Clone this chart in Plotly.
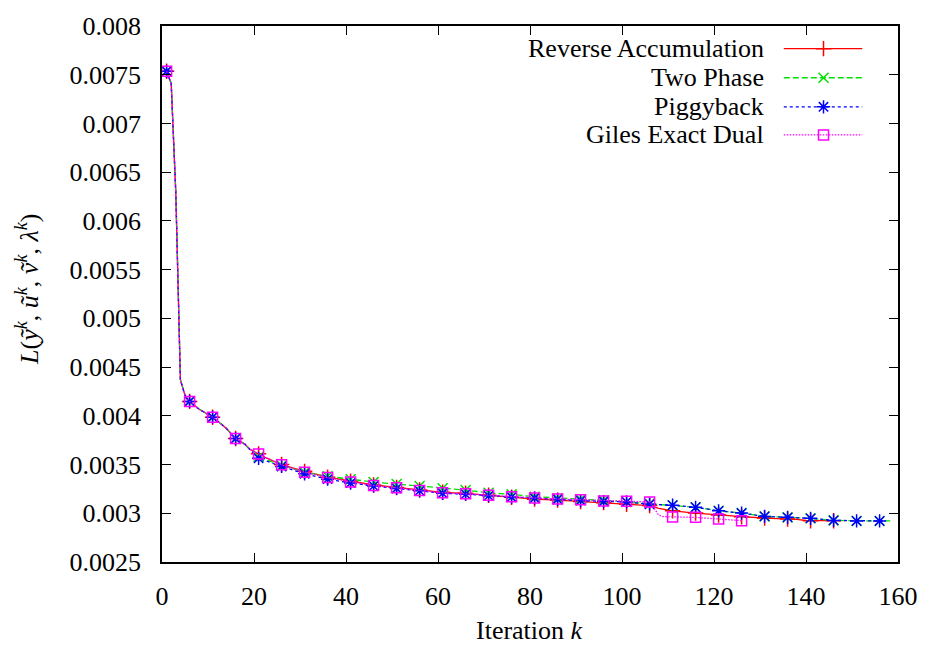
import plotly.graph_objects as go

# ---------------- data ----------------
early_k = [1, 2, 3, 4, 5, 6, 8, 11, 13, 14, 16, 18, 19]
early_v = [0.007535, 0.00741, 0.00629, 0.00437, 0.00421, 0.004148, 0.00407,
           0.003986, 0.00391, 0.00387, 0.003767, 0.00371, 0.00366]

ra_k = early_k + [21, 23, 26, 31, 36, 41, 46, 51, 56, 61, 66, 71, 76, 81, 86, 91, 96,
                  101, 106, 108, 111, 116, 121, 126, 131, 136, 138, 140, 141, 146]
ra_v = early_v + [0.00361, 0.00356, 0.0035, 0.00343, 0.00337, 0.00333, 0.00329, 0.003265,
                  0.00324, 0.003215, 0.003205, 0.003185, 0.003165, 0.003145, 0.003135,
                  0.00312, 0.003109, 0.003093, 0.003079, 0.00305, 0.003025, 0.003002,
                  0.002982, 0.002965, 0.002951, 0.002941, 0.002938, 0.002926, 0.002924,
                  0.002924]

tp_k = early_k + [21, 26, 31, 36, 41, 46, 51, 56, 61, 66, 71, 76, 81, 86, 91, 96, 101,
                  106, 111, 116, 121, 126, 131, 136, 141, 146, 151, 156, 159]
tp_v = early_v + [0.00358, 0.00349, 0.00342, 0.00338, 0.00335, 0.00332, 0.0033, 0.00328,
                  0.003257, 0.003238, 0.00321, 0.003194, 0.00317, 0.003154, 0.003144,
                  0.003133, 0.003116, 0.0031, 0.003083, 0.003062, 0.003025, 0.003002,
                  0.002968, 0.002958, 0.002948, 0.002927, 0.002921, 0.002921, 0.002921]

pb_k = early_k + [21, 26, 31, 36, 41, 46, 51, 56, 61, 66, 71, 76, 81, 86, 91, 96, 101,
                  106, 111, 116, 121, 126, 131, 136, 141, 146, 151, 156, 157]
pb_v = early_v + [0.003564, 0.00348, 0.003405, 0.00335, 0.00331, 0.00328, 0.003255,
                  0.00323, 0.003205, 0.003195, 0.00318, 0.003165, 0.003155, 0.003142,
                  0.00313, 0.00312, 0.003116, 0.003093, 0.003083, 0.003062, 0.003025,
                  0.003002, 0.002968, 0.002958, 0.002948, 0.002927, 0.002921, 0.002921,
                  0.002921]

ge_k = early_k + [21, 26, 31, 36, 41, 46, 51, 56, 61, 66, 71, 76, 81, 86, 91, 96, 101,
                  106, 107, 108, 109, 111, 116, 121, 126]
ge_v = early_v + [0.003609, 0.003497, 0.00342, 0.003366, 0.003322, 0.003285, 0.003261,
                  0.003234, 0.00321, 0.0032, 0.003184, 0.00317, 0.003157, 0.003147,
                  0.00314, 0.003126, 0.003123, 0.003116, 0.00305, 0.00298, 0.002965,
                  0.002962, 0.002958, 0.002941, 0.002924]

series_names = ["Reverse Accumulation", "Two Phase", "Piggyback", "Giles Exact Dual"]

y_tickvals = [0.0025, 0.003, 0.0035, 0.004, 0.0045, 0.005, 0.0055, 0.006, 0.0065,
              0.007, 0.0075, 0.008]
y_ticktext = ["0.0025", "0.003", "0.0035", "0.004", "0.0045", "0.005", "0.0055",
              "0.006", "0.0065", "0.007", "0.0075", "0.008"]
x_tickvals = [0, 20, 40, 60, 80, 100, 120, 140, 160]

# ---------------- styles ----------------
styles = [
    dict(color="#ff0000", dash="solid", symbol="cross-thin", size=11),
    dict(color="#00e000", dash="6px,3px", symbol="x-thin", size=10),
    dict(color="#0000ff", dash="3px,3px", symbol="asterisk", size=11),
    dict(color="#ff00ff", dash="1.5px,1.5px", symbol="square-open", size=10),
]
data = [(ra_k, ra_v), (tp_k, tp_v), (pb_k, pb_v), (ge_k, ge_v)]

FONT = "Liberation Serif, Times New Roman, serif"
FS = 26
fig = go.Figure()

for (ks, vs), st, name in zip(data, styles, series_names):
    fig.add_trace(go.Scatter(x=ks, y=vs, mode="lines", showlegend=False,
                             line=dict(color=st["color"], dash=st["dash"], width=1.3),
                             hoverinfo="skip"))
    mk = [k for k in ks if (k - 1) % 5 == 0]
    mv = [v for k, v in zip(ks, vs) if (k - 1) % 5 == 0]
    fig.add_trace(go.Scatter(x=mk, y=mv, mode="markers", showlegend=False, name=name,
                             marker=dict(symbol=st["symbol"], size=st["size"],
                                         color=st["color"],
                                         line=dict(color=st["color"], width=1.5))))

# ---------------- manual gnuplot-style key ----------------
# plot area: x 162..903 px, y 18..562 px
x0, x1, y0, y1 = 162, 903, 18, 562
def px2paper_x(p):
    return (p - x0) / (x1 - x0)
def px2paper_y(p):
    return (y1 - p) / (y1 - y0)

rows = [41, 70.5, 100, 128.5]
for row, st, name in zip(rows, styles, series_names):
    yy = px2paper_y(row)
    fig.add_trace(go.Scatter(x=[px2paper_x(788), px2paper_x(867)], y=[yy, yy],
                             xaxis="x2", yaxis="y2", mode="lines", showlegend=False,
                             line=dict(color=st["color"], dash=st["dash"], width=1.3),
                             hoverinfo="skip"))
    fig.add_trace(go.Scatter(x=[px2paper_x(828)], y=[yy], xaxis="x2", yaxis="y2",
                             mode="markers", showlegend=False, hoverinfo="skip",
                             marker=dict(symbol=st["symbol"], size=st["size"],
                                         color=st["color"],
                                         line=dict(color=st["color"], width=1.5))))
    fig.add_annotation(text=name, xref="paper", yref="paper", x=px2paper_x(770), y=yy,
                       xanchor="right", yanchor="middle", showarrow=False,
                       font=dict(family=FONT, size=FS, color="black"))

axis_common = dict(showline=True, linecolor="black", linewidth=1.5, mirror="ticks",
                   ticks="inside", ticklen=9, tickwidth=1.2, tickcolor="black",
                   showgrid=False, zeroline=False,
                   tickfont=dict(family=FONT, size=FS, color="black"))

fig.update_layout(
    width=930, height=650,
    margin=dict(l=x0, r=930 - x1, t=y0, b=650 - y1),
    plot_bgcolor="white", paper_bgcolor="white",
    xaxis=dict(range=[0, 160], tickvals=x_tickvals, ticklabelstandoff=10, **axis_common),
    yaxis=dict(range=[0.0025, 0.008], tickvals=y_tickvals, ticktext=y_ticktext,
               ticklabelstandoff=14, **axis_common),
    xaxis2=dict(overlaying="x", range=[0, 1], visible=False),
    yaxis2=dict(overlaying="y", range=[0, 1], visible=False),
    showlegend=False,
)

fig.add_annotation(text="Iteration <i>k</i>", xref="paper", yref="paper",
                   x=px2paper_x(532), y=px2paper_y(632), showarrow=False,
                   xanchor="center", yanchor="middle",
                   font=dict(family=FONT, size=FS, color="black"))
fig.add_annotation(text="<i>L</i>(<i>ỹ</i><sup><i>k</i></sup>, <i>ũ</i><sup><i>k</i></sup>, "
                        "<i>ṽ</i><sup><i>k</i></sup>, <i>λ</i><sup><i>k</i></sup>)",
                   xref="paper", yref="paper", x=px2paper_x(26), y=px2paper_y(285),
                   textangle=-90, showarrow=False, xanchor="center", yanchor="middle",
                   font=dict(family=FONT, size=FS, color="black"))

fig.write_html("out.html")
